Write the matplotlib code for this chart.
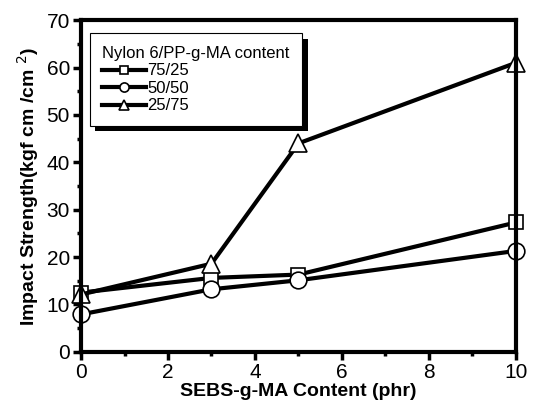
import numpy as np
import matplotlib.pyplot as plt
import matplotlib.patheffects as pe
from matplotlib.ticker import MultipleLocator

plt.rcParams['font.family'] = ['Liberation Sans', 'DejaVu Sans']

# SEBS-g-MA content (phr)
sebs = [0, 3, 5, 10]
# impact strength for each Nylon 6/PP-g-MA ratio
s_75_25 = [12.5, 15.6, 16.3, 27.3]
s_50_50 = [7.9, 13.2, 15.1, 21.3]
s_25_75 = [12.1, 18.6, 44.0, 61.0]
labels = ['75/25', '50/50', '25/75']
markers = ['s', 'o', '^']
sizes = [10, 12, 13]

fig = plt.figure(figsize=(5.33, 4.03), dpi=100)
ax = fig.add_axes([0.152, 0.127, 0.816, 0.823])

for y, lab, m, s in zip([s_75_25, s_50_50, s_25_75], labels, markers, sizes):
    ax.plot(sebs, y, '-', color='black', lw=3, marker=m, ms=s,
            mfc='white', mec='black', mew=1.2, label=lab, clip_on=False)

ax.set_xlim(0, 10)
ax.set_ylim(0, 70)
ax.xaxis.set_major_locator(MultipleLocator(2))
ax.xaxis.set_minor_locator(MultipleLocator(1))
ax.yaxis.set_major_locator(MultipleLocator(10))
ax.yaxis.set_minor_locator(MultipleLocator(5))
ax.tick_params(which='major', direction='out', length=6, width=2.5, labelsize=15, pad=2)
ax.tick_params(which='minor', direction='out', length=3, width=2.5)
for sp in ax.spines.values():
    sp.set_linewidth(3)

ax.set_xlabel('SEBS-g-MA Content (phr)', fontsize=14, fontweight='bold', labelpad=1)
ax.set_ylabel('Impact Strength(kgf cm /cm $^{2}$)', fontsize=14, fontweight='bold', labelpad=4)

leg = ax.legend(title='Nylon 6/PP-g-MA content', loc='upper left',
                bbox_to_anchor=(0.02, 0.96), borderaxespad=0,
                fontsize=12, title_fontsize=12,
                frameon=True, fancybox=False, shadow=False, framealpha=1,
                edgecolor='black', handlelength=2.6, handletextpad=0.1,
                labelspacing=0.15, borderpad=0.75, markerscale=0.55)
frame = leg.get_frame()
frame.set_linewidth(0.8)
frame.set_path_effects([pe.withSimplePatchShadow(offset=(4, -4), shadow_rgbFace='black', alpha=1)])
leg._legend_box.align = 'left'

fig.savefig('out.png', dpi=100)
